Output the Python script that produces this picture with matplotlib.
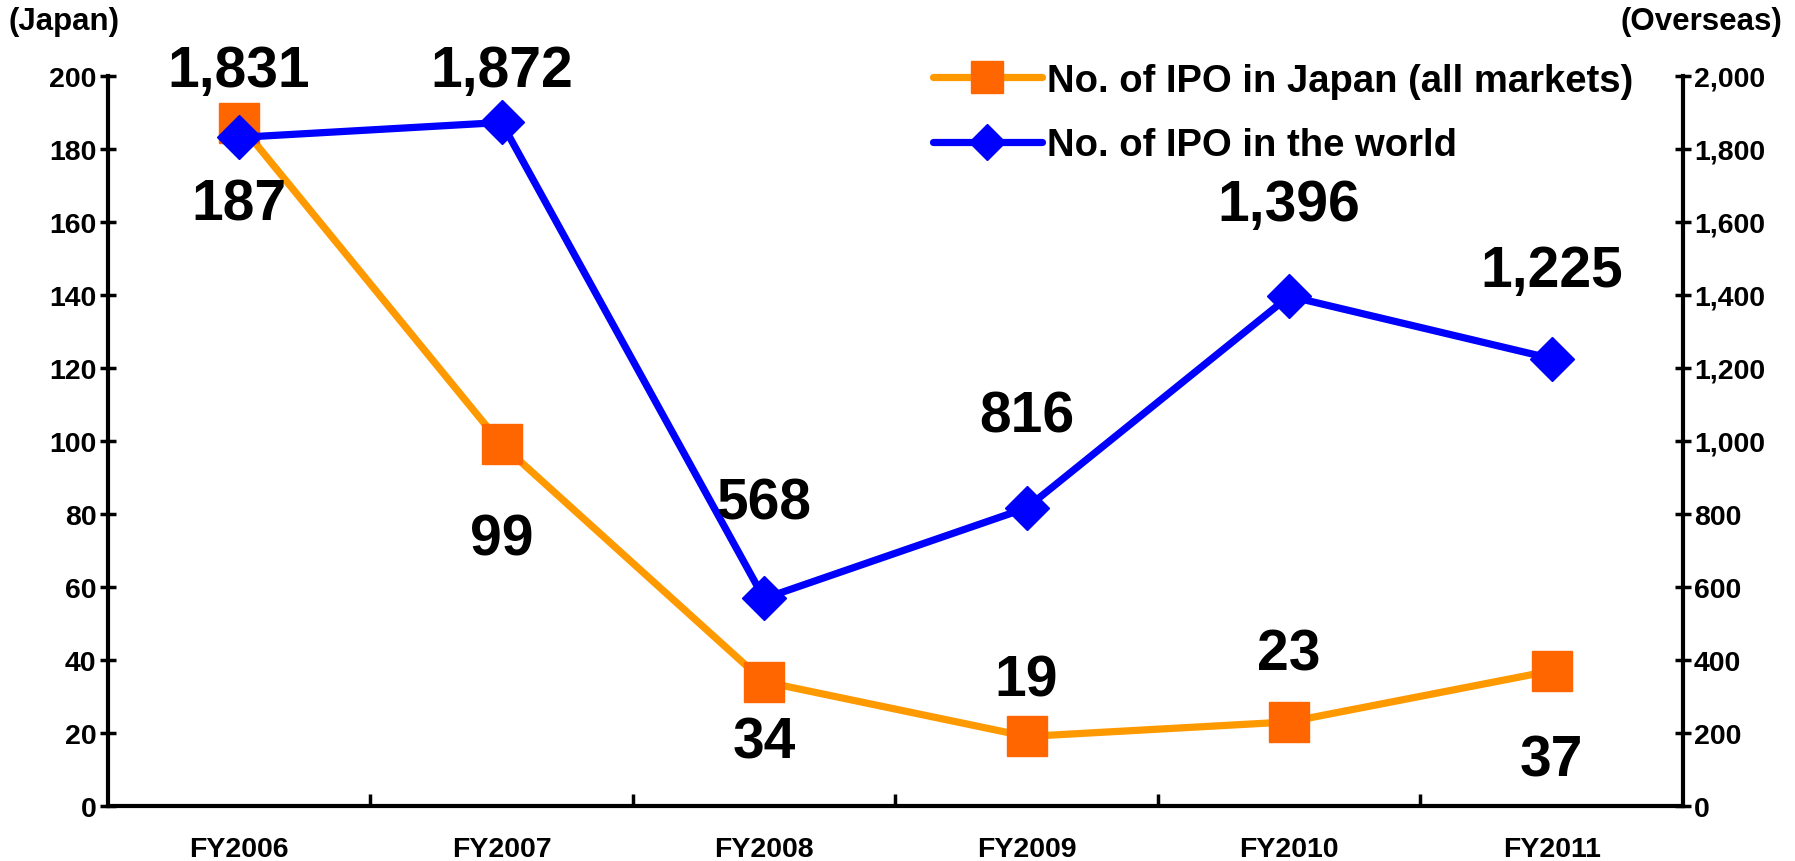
import numpy as np
import matplotlib
matplotlib.use("Agg")
from matplotlib import pyplot as plt
from matplotlib.ticker import FuncFormatter, FixedLocator

plt.rcParams['font.family'] = ['Liberation Sans', 'DejaVu Sans']
plt.rcParams['font.weight'] = 'bold'

years = ["FY2006", "FY2007", "FY2008", "FY2009", "FY2010", "FY2011"]
ipo_japan = [187, 99, 34, 19, 23, 37]
ipo_world = [1831, 1872, 568, 816, 1396, 1225]

# label offsets in pixels (dx, dy) from each point
japan_offsets = [(0, -81), (0, -95), (0, -61), (0, 56), (0, 67), (0, -90)]
world_offsets = [(0, 66), (0, 51), (0, 95), (0, 91), (0, 91), (0, 88)]

ORANGE_LINE = "#FF9900"
ORANGE_MARK = "#FF6600"
BLUE = "#0000FF"

fig = plt.figure(figsize=(17.95, 8.62), dpi=100)
ax = fig.add_axes([0.060, 0.064, 0.8776, 0.847])
ax2 = ax.twinx()

x = np.arange(len(years))

l1, = ax.plot(x, ipo_japan, color=ORANGE_LINE, lw=5.2, marker="s", ms=29,
              mfc=ORANGE_MARK, mec=ORANGE_MARK, solid_capstyle="round",
              label="No. of IPO in Japan (all markets)")
l2, = ax2.plot(x, ipo_world, color=BLUE, lw=5.2, marker="D", ms=22.5,
               mfc=BLUE, mec=BLUE, solid_capstyle="round",
               label="No. of IPO in the world")

ax.set_xlim(-0.5, 5.5)
ax.set_ylim(0, 200)
ax2.set_ylim(0, 2000)
ax.set_yticks(np.arange(0, 201, 20))
ax2.set_yticks(np.arange(0, 2001, 200))
ax2.yaxis.set_major_formatter(FuncFormatter(lambda v, p: f"{int(v):,}"))

# categories sit between the boundary ticks
ax.set_xticks(x)
ax.set_xticklabels(years)
ax.xaxis.set_minor_locator(FixedLocator(np.arange(0.5, 5.5, 1.0)))
ax.tick_params(axis="x", which="major", length=0, pad=22, labelsize=20.5)
ax.tick_params(axis="x", which="minor", direction="in", length=9, width=2.5)
ax.tick_params(axis="y", direction="inout", length=12, width=2.5, labelsize=20.5, pad=2)
ax2.tick_params(axis="y", direction="inout", length=12, width=2.5, labelsize=20.5, pad=2)

for a in (ax, ax2):
    a.spines["top"].set_visible(False)
    for s in ("left", "right", "bottom"):
        a.spines[s].set_linewidth(3)
ax.spines["right"].set_visible(False)
ax2.spines["left"].set_visible(False)
ax2.spines["bottom"].set_visible(False)

for xi, v, off in zip(x, ipo_japan, japan_offsets):
    ax.annotate(f"{v:,}", (xi, v), xytext=off, textcoords="offset pixels",
                ha="center", va="center", fontsize=41, fontweight="bold")
for xi, v, off in zip(x, ipo_world, world_offsets):
    ax2.annotate(f"{v:,}", (xi, v), xytext=off, textcoords="offset pixels",
                 ha="center", va="center", fontsize=41, fontweight="bold")

fig.text(0.005, 0.975, "(Japan)", ha="left", va="center", fontsize=22.5, fontweight="bold")
fig.text(0.993, 0.975, "(Overseas)", ha="right", va="center", fontsize=22.5, fontweight="bold")

ax2.legend(handles=[l1, l2], loc="upper left", bbox_to_anchor=(0.5198, 0.926),
           bbox_transform=fig.transFigure, frameon=False, fontsize=27.5,
           borderpad=0, borderaxespad=0,
           handlelength=2.85, handletextpad=0.13, labelspacing=0.75, markerscale=0.8)

fig.savefig("out.png", dpi=100)
